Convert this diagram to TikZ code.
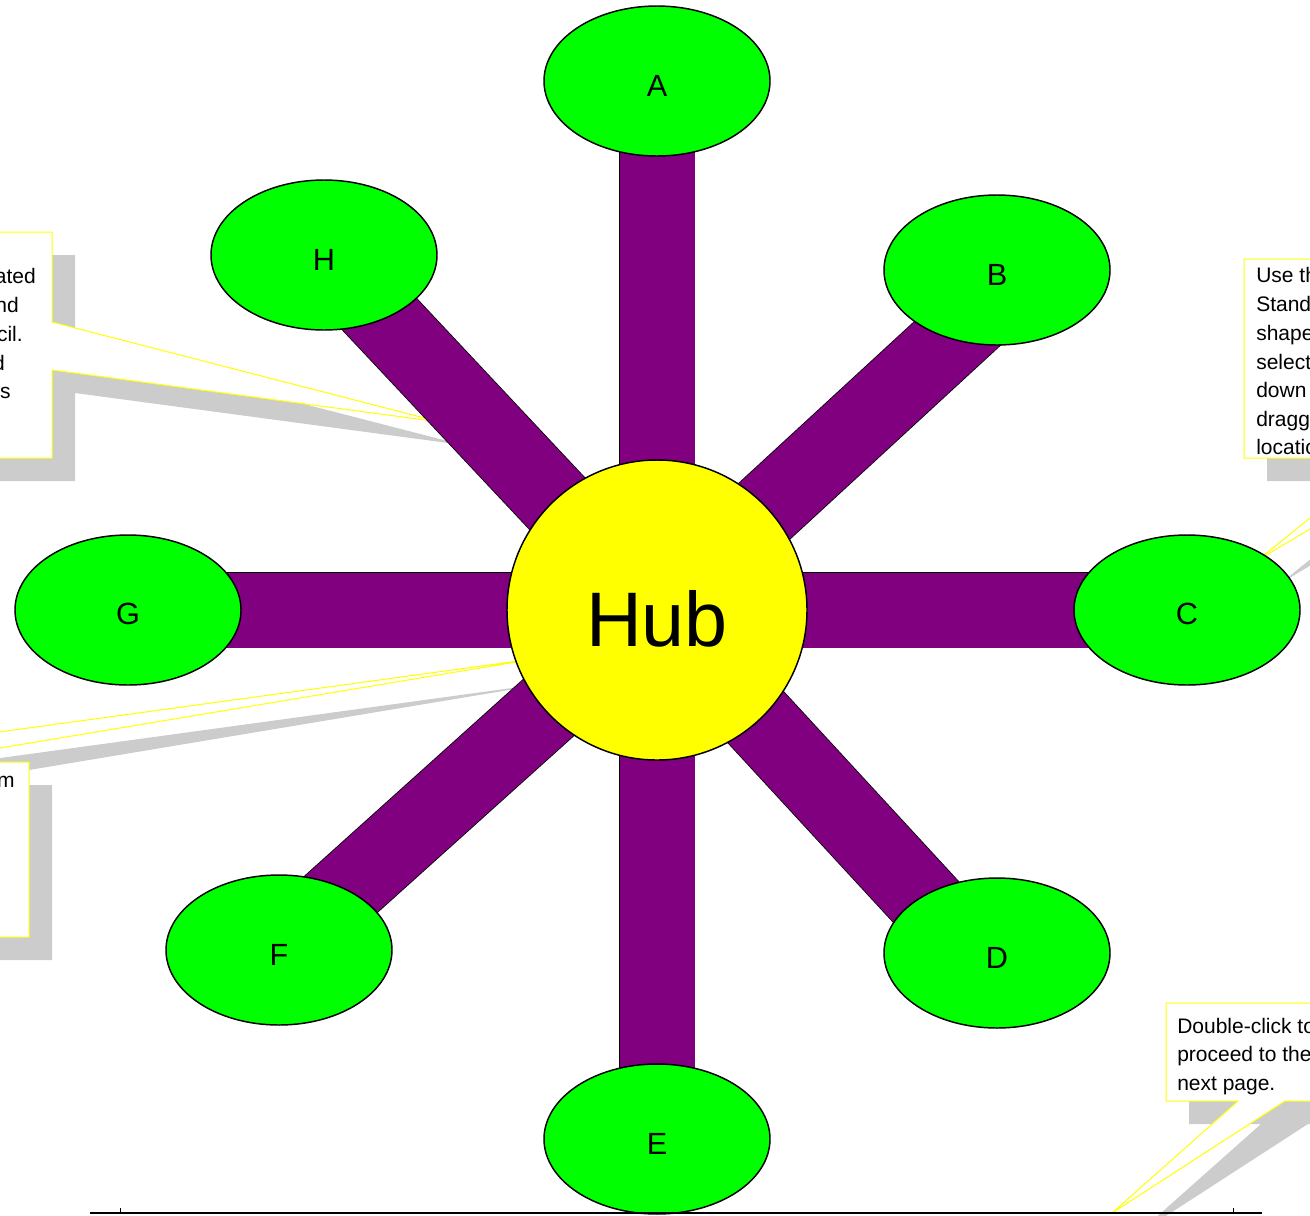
\documentclass[tikz,border=0pt]{standalone}
\usepackage{fontspec}
\setmainfont{Liberation Sans}
\usetikzlibrary{shapes.geometric,calc}
\definecolor{spokepurple}{HTML}{800080}
\definecolor{bubblegreen}{HTML}{00FF00}
\definecolor{hubyellow}{HTML}{FFFF00}
\definecolor{shadowgray}{HTML}{CCCCCC}
\pgfdeclarelayer{callouts}
\pgfdeclarelayer{spokes}
\pgfsetlayers{callouts,spokes,main}

\begin{document}
\begin{tikzpicture}[x=0.75pt,y=-0.75pt]
		\tikzstyle{Bubble}=[ellipse,draw=black,line width=1.1pt,fill=bubblegreen,inner sep=0pt,
		  minimum width=169.5pt,minimum height=112.5pt,text height=22.5pt,font=\fontsize{23}{27}\selectfont]
		\tikzstyle{HubStyle}=[circle,draw=black,line width=1.1pt,fill=hubyellow,inner sep=0pt,
		  minimum size=225pt,text height=55.5pt,font=\fontsize{58}{66}\selectfont]
		\tikzstyle{SpokeStyle}=[draw=black,line width=0.6pt,double=spokepurple,double distance=56.25pt]
		\tikzstyle{CalloutStyle}=[draw=hubyellow,line width=0.75pt,fill=white,line join=miter]
		\tikzstyle{ShadowStyle}=[fill=shadowgray,shift={(23,23)}]
		\tikzstyle{NoteText}=[inner sep=0pt,anchor=base west,font=\fontsize{15.75}{21.75}\selectfont]
		\useasboundingbox (0,0) rectangle (1310,1215);
		% hub and spokes
		\node[HubStyle] (hub) at (657,610) {Hub};
		\node[Bubble] (A) at (657,81) {A};
		\node[Bubble] (B) at (997,270) {B};
		\node[Bubble] (C) at (1187,610) {C};
		\node[Bubble] (D) at (997,953) {D};
		\node[Bubble] (E) at (657,1139) {E};
		\node[Bubble] (F) at (279,950) {F};
		\node[Bubble] (G) at (128,610) {G};
		\node[Bubble] (H) at (324,255) {H};
		\begin{pgfonlayer}{spokes}
			\foreach \v in {A,C,E,F,G,H}
				\draw[SpokeStyle] (hub.center) -- (\v.center);
			\draw[SpokeStyle] (hub.center) -- ($(B.center)+(0,27)$);
			\draw[SpokeStyle] (hub.center) -- ($(D.center)+(0,26)$);
		\end{pgfonlayer}
		% callouts
		\begin{pgfonlayer}{callouts}
			\clip (0,0) rectangle (1310,1215);
			\fill[ShadowStyle] (-300,232) -- (52,232) -- (52,322) -- (440,422) -- (52,370) -- (52,458) -- (-300,458) -- cycle;
			\path[CalloutStyle] (-300,232) -- (52,232) -- (52,322) -- (440,422) -- (52,370) -- (52,458) -- (-300,458) -- cycle;
			\fill[ShadowStyle] (-300,762) -- (-220,762) -- (540,658) -- (-84,762) -- (29,762) -- (29,937) -- (-300,937) -- cycle;
			\path[CalloutStyle] (-300,762) -- (-220,762) -- (540,658) -- (-84,762) -- (29,762) -- (29,937) -- (-300,937) -- cycle;
			\fill[ShadowStyle] (1244,259) -- (1500,259) -- (1500,458) -- (1429,458) -- (1258,560) -- (1384,458) -- (1244,458) -- cycle;
			\path[CalloutStyle] (1244,259) -- (1500,259) -- (1500,458) -- (1429,458) -- (1258,560) -- (1384,458) -- (1244,458) -- cycle;
			\fill[ShadowStyle] (1166,1003) -- (1420,1003) -- (1420,1101) -- (1285,1101) -- (1112,1213) -- (1238,1101) -- (1166,1101) -- cycle;
			\path[CalloutStyle] (1166,1003) -- (1420,1003) -- (1420,1101) -- (1285,1101) -- (1112,1213) -- (1238,1101) -- (1166,1101) -- cycle;
			\foreach \t/\x/\y [count=\i] in {ated/36/283,nd/19/312,cil./23/341,d/5/370,s/11/398}
				\node[NoteText,anchor=base east] (noteH\i) at (\x,\y) {\t};
			\node[NoteText,anchor=base east] (noteF) at (15,787) {m};
			\foreach \t/\y [count=\i] in {Use the/282,Standard/311,shapes/340,select/369,down/397,dragging/426,location/454}
				\node[NoteText] (noteC\i) at (1256,\y) {\t};
			\foreach \t/\y [count=\i] in {Double-click to/1033,proceed to the/1061,next page./1090}
				\node[NoteText] (noteE\i) at (1177,\y) {\t};
		\end{pgfonlayer}
		% page rule
		\coordinate (ruleL) at (90,1213);
		\coordinate (ruleR) at (1262,1213);
		\coordinate (tickL) at (120,1208);
		\coordinate (tickR) at (1233,1208);
		\draw[line width=1.1pt] (ruleL) -- (ruleR);
		\draw[line width=0.6pt] (tickL) -- (tickL |- ruleL);
		\draw[line width=0.6pt] (tickR) -- (tickR |- ruleR);
\end{tikzpicture}
\end{document}
